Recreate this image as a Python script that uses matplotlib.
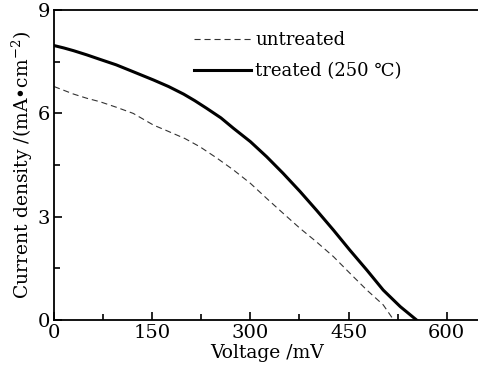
import matplotlib
matplotlib.use("Agg")
import matplotlib.pyplot as plt
from matplotlib.ticker import MultipleLocator

plt.rcParams['font.family'] = ['DejaVu Serif']
plt.rcParams['mathtext.fontset'] = 'dejavuserif'

v_treated = [0, 15, 30, 50, 70, 95, 121, 152, 175, 198, 215, 233, 255, 274, 300, 325, 350, 376, 401, 427, 452, 478, 503, 529, 554]
j_treated = [7.97, 7.9, 7.82, 7.7, 7.57, 7.41, 7.21, 6.97, 6.78, 6.56, 6.37, 6.15, 5.87, 5.57, 5.18, 4.74, 4.26, 3.73, 3.19, 2.61, 2.03, 1.45, 0.87, 0.39, 0.0]

v_untreated = [0, 30, 50, 70, 95, 121, 152, 172, 200, 223, 249, 274, 300, 325, 350, 376, 401, 427, 452, 478, 503, 519]
j_untreated = [6.78, 6.56, 6.44, 6.34, 6.18, 6.0, 5.66, 5.5, 5.27, 5.03, 4.7, 4.36, 3.97, 3.53, 3.1, 2.66, 2.27, 1.84, 1.36, 0.87, 0.44, 0.0]

fig = plt.figure(figsize=(4.78, 3.73), dpi=100)
ax = fig.add_axes([0.113, 0.142, 0.89, 0.831])

ax.plot(v_untreated, j_untreated, color='#333333', lw=0.8, ls=(0, (5.5, 3.5)), label='untreated')
ax.plot(v_treated, j_treated, color='black', lw=2.2, label='treated (250 \u2103)')

ax.set_xlim(0, 650)
ax.set_ylim(0, 9)
ax.xaxis.set_major_locator(MultipleLocator(150))
ax.xaxis.set_minor_locator(MultipleLocator(75))
ax.yaxis.set_major_locator(MultipleLocator(3))
ax.yaxis.set_minor_locator(MultipleLocator(1.5))
ax.tick_params(which='both', direction='in', top=False, right=False, labelsize=14, width=1.2)
ax.tick_params(which='major', length=6, pad=3)
ax.tick_params(which='minor', length=4)
for s in ax.spines.values():
    s.set_linewidth(1.3)

ax.set_xlabel('Voltage /mV', fontsize=13.5, labelpad=1)
ax.set_ylabel('Current density /(mA\u2022cm$^{-2}$)', fontsize=13.5, labelpad=2)

ax.legend(loc='upper left', bbox_to_anchor=(0.29, 0.985), frameon=False, fontsize=13,
          handlelength=3.2, handletextpad=0.2, labelspacing=0.75)

fig.savefig('out.png', dpi=100)
